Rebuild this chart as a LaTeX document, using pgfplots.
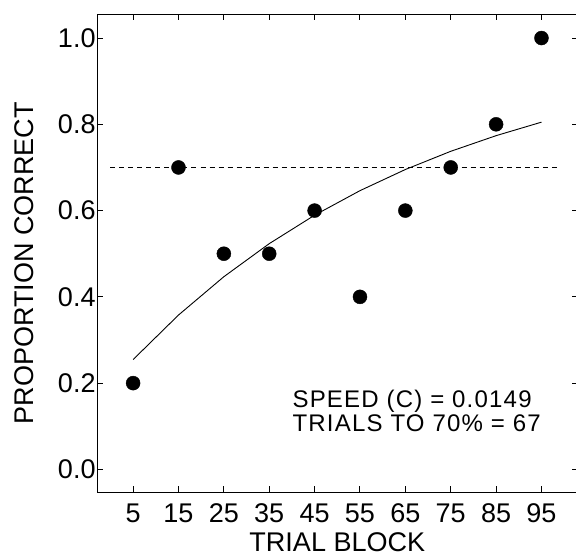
\documentclass[border=0pt]{standalone}
\usepackage{fontspec}
\setmainfont{Liberation Sans}
\newfontfamily\wide[LetterSpace=5.0]{Liberation Sans}
\usepackage{pgfplots}
\pgfplotsset{compat=1.18}
\begin{document}
\begin{tikzpicture}
\begin{axis}[
  scale only axis,
  width=480pt, height=478pt,
  anchor=south west, at={(0pt,0pt)},
  xmin=-2.94, xmax=102.94,
  ymin=-0.0534, ymax=1.0557,
  xtick={5,15,25,35,45,55,65,75,85,95},
  ytick={0,0.2,0.4,0.6,0.8,1.0},
  yticklabels={0.0,0.2,0.4,0.6,0.8,1.0},
  tick align=inside,
  major tick length=6pt,
  tick style={line width=1pt, black},
  axis line style={line width=1pt},
  /pgf/number format/assume math mode=true,
  ticklabel style={font=\fontsize{27}{32}\selectfont},
  xticklabel style={yshift=-8pt},
  yticklabel style={xshift=2pt},
  xlabel={TRIAL BLOCK},
  ylabel={PROPORTION CORRECT},
  label style={font=\fontsize{27}{32}\selectfont},
  xlabel style={at={([yshift=-59pt]axis description cs:0.5,0)}, anchor=base, inner sep=0pt},
  ylabel style={at={([xshift=-64pt]axis description cs:0,0.479)}, anchor=base, rotate=0, inner sep=0pt},
  clip=false,
]
\addplot[black, line width=0.9pt, dash pattern=on 5pt off 4pt] coordinates {(0,0.7) (99,0.7)};
\addplot[black, line width=0.9pt] coordinates {
(5,0.2546) (15,0.3578) (25,0.4467) (35,0.5233) (45,0.5893)
(55,0.6462) (65,0.6952) (75,0.7374) (85,0.7737) (95,0.8050)};
\addplot[only marks, mark=*, mark size=7pt, black] coordinates {
(5,0.2) (15,0.7) (25,0.5) (35,0.5) (45,0.6) (55,0.4) (65,0.6) (75,0.7) (85,0.8) (95,1.0)};
\node[anchor=base west, inner sep=0pt, font=\wide\fontsize{24}{28}\selectfont] at (axis cs:40.1,0.144) {SPEED (C) = 0.0149};
\node[anchor=base west, inner sep=0pt, font=\wide\fontsize{24}{28}\selectfont] at (axis cs:40.1,0.088) {TRIALS TO 70\% = 67};
\end{axis}
\pgfresetboundingbox
\useasboundingbox (-97pt,-66pt) rectangle (478.5pt,492pt);
\end{tikzpicture}
\end{document}
